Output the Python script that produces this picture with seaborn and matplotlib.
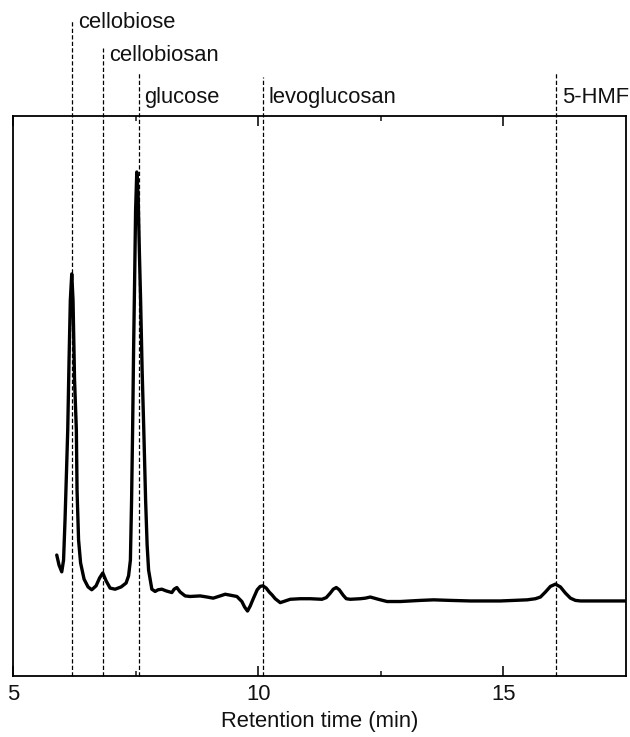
import numpy as np
import pandas as pd
import matplotlib
matplotlib.use("Agg")
import matplotlib.pyplot as plt
import seaborn as sns

# ---- data ----
time_min = [5.892, 5.939, 5.994, 6.031, 6.061, 6.092, 6.116, 6.143, 6.169, 6.198,
            6.224, 6.255, 6.292, 6.306, 6.337, 6.378, 6.449, 6.531, 6.606, 6.694,
            6.765, 6.831, 6.898, 6.980, 7.082, 7.204, 7.306, 7.357, 7.394, 7.418,
            7.439, 7.459, 7.480, 7.500, 7.524, 7.551, 7.576, 7.602, 7.633, 7.667,
            7.704, 7.735, 7.765, 7.831, 7.898, 7.959, 8.035, 8.122, 8.239, 8.286,
            8.341, 8.408, 8.510, 8.612, 8.816, 8.959, 9.082, 9.224, 9.327, 9.449,
            9.565, 9.667, 9.724, 9.782, 9.837, 9.904, 9.980, 10.041, 10.096, 10.163,
            10.224, 10.280, 10.347, 10.449, 10.551, 10.653, 10.857, 11.061, 11.300, 11.388,
            11.469, 11.531, 11.592, 11.653, 11.735, 11.796, 11.878, 12.082, 12.184, 12.286,
            12.449, 12.627, 12.898, 13.306, 13.578, 13.918, 14.327, 14.939, 15.484, 15.653,
            15.755, 15.857, 15.959, 16.061, 16.163, 16.265, 16.367, 16.469, 16.571, 16.980,
            17.490]
signal = [21.6, 19.8, 18.6, 20.7, 27.9, 36.8, 43.9, 56.4, 67.1, 71.8,
          67.1, 52.9, 43.9, 33.2, 24.3, 20.2, 17.3, 15.9, 15.4, 16.1,
          17.5, 18.4, 17.0, 15.7, 15.5, 15.9, 16.6, 17.9, 20.7, 31.4,
          43.9, 58.2, 70.7, 83.2, 90.0, 85.9, 76.1, 67.1, 54.6, 43.9,
          31.4, 23.4, 18.9, 15.5, 15.1, 15.4, 15.5, 15.2, 14.9, 15.5,
          15.8, 15.0, 14.3, 14.2, 14.3, 14.1, 13.9, 14.3, 14.6, 14.4,
          14.2, 13.3, 12.3, 11.6, 12.5, 13.9, 15.4, 16.0, 16.1, 15.7,
          15.0, 14.5, 13.8, 13.1, 13.4, 13.7, 13.8, 13.8, 13.7, 14.0,
          14.8, 15.5, 15.8, 15.4, 14.4, 13.8, 13.7, 13.8, 13.9, 14.1,
          13.7, 13.3, 13.3, 13.5, 13.6, 13.5, 13.4, 13.4, 13.6, 13.8,
          14.1, 15.0, 16.0, 16.4, 15.9, 14.8, 13.9, 13.5, 13.4, 13.4,
          13.4]

compounds = ["cellobiose", "cellobiosan", "glucose", "levoglucosan", "5-HMF"]
peak_times = [6.20, 6.83, 7.56, 10.10, 16.07]
marker_tops = [116.9, 112.1, 107.9, 107.0, 107.9]
label_baselines = [115.7, 109.8, 102.4, 102.4, 102.4]

major_ticks = [5, 10, 15]
minor_ticks = [7.5, 12.5]

df = pd.DataFrame({"time": time_min, "signal": signal})

# ---- style ----
sns.set_style("ticks")
plt.rcParams['font.family'] = ['Liberation Sans', 'DejaVu Sans']

fig = plt.figure(figsize=(6.3, 7.37), dpi=100)
ax = fig.add_axes([13/630, 61/737, 613/630, 560/737])

sns.lineplot(data=df, x="time", y="signal", ax=ax, color="black",
             linewidth=2.4, sort=False, zorder=3)

ax.vlines(peak_times, 0, marker_tops, colors="black", linewidth=0.9,
          linestyles=(0, (3.4, 1.8)), clip_on=False, zorder=4)
for name, t, yb in zip(compounds, peak_times, label_baselines):
    ax.text(t + 0.12, yb, name, ha="left", va="baseline", fontsize=15.8,
            color="#111111", clip_on=False)

ax.set_xlim(5, 17.5)
ax.set_ylim(0, 100)
ax.set_xticks(major_ticks)
ax.set_xticklabels([str(v) for v in major_ticks])
ax.set_xticks(minor_ticks, minor=True)
ax.set_yticks([])
ax.tick_params(axis="x", which="major", direction="in", length=7, width=1.2,
               labelsize=15.8, pad=6, top=True, colors="#111111")
ax.tick_params(axis="x", which="minor", direction="in", length=3.5, width=1.2,
               top=True)
ax.set_xlabel("Retention time (min)", fontsize=15.8, labelpad=4, color="#111111")
ax.set_ylabel("")
for sp in ax.spines.values():
    sp.set_visible(True)
    sp.set_linewidth(1.3)
    sp.set_color("black")

fig.savefig("out.png", dpi=100)
